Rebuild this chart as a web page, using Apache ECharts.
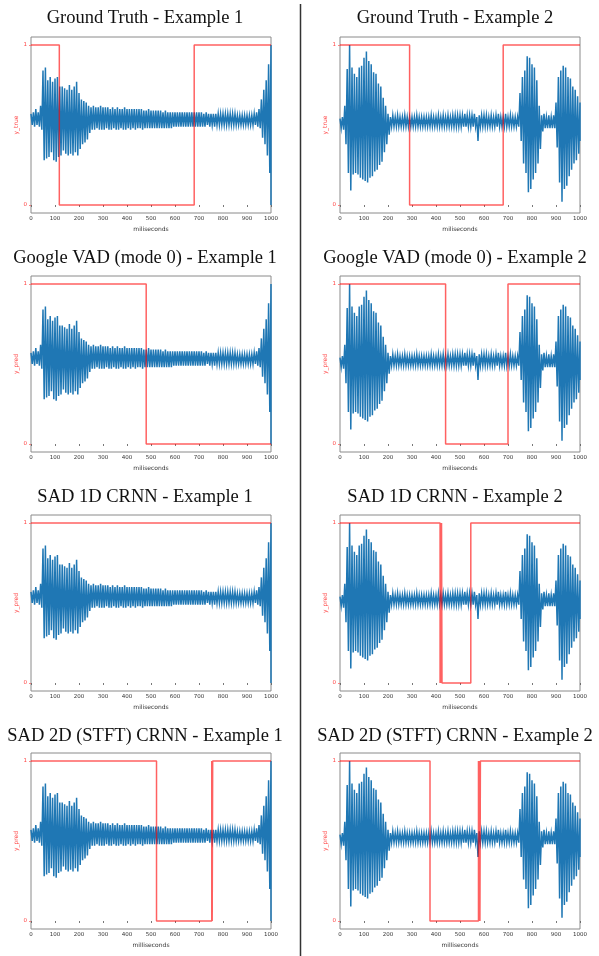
<!DOCTYPE html>
<html><head><meta charset="utf-8">
<script src="https://cdn.jsdelivr.net/npm/echarts@6/dist/echarts.min.js"></script>
<style>html,body{margin:0;padding:0;background:#fff}#c{width:599px;height:956px}</style>
</head><body><div id="c"></div>
<script>
// ---------- DATA ----------
const xTicks = [0,100,200,300,400,500,600,700,800,900,1000];
const yTicks = [0,1];
const sampleStepMs = 10; // waveform envelope sampled every 10 ms, 0..1000

// Example 1 waveform: normalised peak / trough per 10 ms window
const ex1Peak = [0.57,0.58,0.60,0.58,0.62,0.84,0.86,0.78,0.80,0.77,
  0.79,0.80,0.74,0.74,0.73,0.72,0.75,0.72,0.74,0.77,
  0.70,0.66,0.65,0.64,0.62,0.61,0.62,0.61,0.61,0.62,
  0.61,0.61,0.61,0.60,0.61,0.60,0.61,0.60,0.60,0.61,
  0.60,0.60,0.60,0.60,0.60,0.60,0.60,0.59,0.59,0.60,
  0.59,0.59,0.59,0.59,0.59,0.58,0.59,0.58,0.58,0.58,
  0.58,0.58,0.58,0.58,0.58,0.58,0.58,0.58,0.58,0.58,
  0.58,0.58,0.57,0.58,0.57,0.57,0.57,0.57,0.57,0.57,
  0.57,0.57,0.57,0.57,0.57,0.57,0.56,0.56,0.56,0.56,
  0.56,0.56,0.56,0.57,0.58,0.60,0.66,0.72,0.78,0.88,1.00];
const ex1Trough = [0.50,0.49,0.50,0.49,0.47,0.28,0.29,0.30,0.33,0.28,
  0.27,0.30,0.31,0.34,0.32,0.31,0.32,0.31,0.33,0.31,
  0.35,0.38,0.39,0.41,0.45,0.47,0.47,0.48,0.47,0.47,
  0.47,0.48,0.47,0.47,0.48,0.47,0.47,0.48,0.47,0.47,
  0.48,0.47,0.48,0.47,0.48,0.48,0.47,0.48,0.48,0.48,
  0.48,0.48,0.48,0.48,0.48,0.48,0.48,0.48,0.48,0.49,
  0.49,0.49,0.49,0.49,0.49,0.49,0.49,0.49,0.49,0.49,
  0.49,0.49,0.49,0.50,0.49,0.50,0.49,0.50,0.50,0.50,
  0.50,0.50,0.50,0.50,0.50,0.50,0.50,0.50,0.50,0.50,
  0.50,0.50,0.50,0.50,0.49,0.48,0.42,0.38,0.31,0.20,0.00];

// Example 2 waveform
const ex2Peak = [0.54,0.55,0.62,0.85,1.00,0.86,0.82,0.80,0.86,0.87,
  0.92,0.96,0.90,0.88,0.83,0.82,0.76,0.74,0.67,0.62,
  0.57,0.55,0.56,0.55,0.56,0.55,0.55,0.56,0.55,0.55,
  0.55,0.55,0.56,0.55,0.55,0.55,0.55,0.55,0.56,0.55,
  0.55,0.56,0.55,0.56,0.55,0.56,0.55,0.56,0.56,0.56,
  0.56,0.56,0.57,0.56,0.56,0.56,0.57,0.55,0.56,0.56,
  0.56,0.56,0.55,0.56,0.55,0.56,0.57,0.55,0.55,0.57,
  0.55,0.56,0.55,0.55,0.55,0.70,0.80,0.84,0.93,0.92,
  0.88,0.86,0.78,0.62,0.56,0.57,0.55,0.56,0.55,0.56,
  0.64,0.80,0.84,0.87,0.86,0.80,0.79,0.74,0.72,0.68,0.64];
const ex2Trough = [0.48,0.47,0.38,0.20,0.09,0.19,0.20,0.19,0.17,0.16,
  0.15,0.14,0.17,0.18,0.21,0.22,0.25,0.27,0.33,0.38,
  0.44,0.49,0.49,0.49,0.49,0.49,0.49,0.49,0.49,0.49,
  0.49,0.49,0.49,0.49,0.49,0.49,0.49,0.49,0.49,0.49,
  0.49,0.49,0.49,0.49,0.49,0.49,0.49,0.49,0.49,0.49,
  0.49,0.49,0.49,0.49,0.49,0.49,0.49,0.40,0.49,0.49,
  0.49,0.49,0.49,0.49,0.49,0.49,0.49,0.49,0.49,0.49,
  0.49,0.49,0.49,0.49,0.49,0.40,0.26,0.20,0.08,0.10,
  0.16,0.20,0.26,0.35,0.46,0.48,0.48,0.48,0.48,0.48,
  0.36,0.14,0.02,0.10,0.12,0.18,0.22,0.26,0.28,0.32,0.40];

// Speech / non-speech labels: [ms where value starts, value]
const gtEx1    = [[0,1],[118,0],[680,1],[1000,1]];
const gtEx2    = [[0,1],[290,0],[680,1],[1000,1]];
const vadEx1   = [[0,1],[480,0],[1000,0]];
const vadEx2   = [[0,1],[440,0],[700,1],[1000,1]];
const sad1dEx1 = [[0,1],[1000,1]];
const sad1dEx2 = [[0,1],[417,0],[419,1],[421,0],[423,1],[425,0],[545,1],[1000,1]];
const sad2dEx1 = [[0,1],[523,0],[753,1],[755,0],[757,1],[1000,1]];
const sad2dEx2 = [[0,1],[375,0],[577,1],[579,0],[581,1],[583,0],[585,1],[1000,1]];

const panelTitles = ["Ground Truth - Example 1","Ground Truth - Example 2",
  "Google VAD (mode 0) - Example 1","Google VAD (mode 0) - Example 2",
  "SAD 1D CRNN - Example 1","SAD 1D CRNN - Example 2",
  "SAD 2D (STFT) CRNN - Example 1","SAD 2D (STFT) CRNN - Example 2"];
const yNames = ["y_true","y_true","y_pred","y_pred","y_pred","y_pred","y_pred","y_pred"];
const xNames = ["miliseconds","miliseconds","miliseconds","miliseconds","miliseconds","miliseconds","milliseconds","milliseconds"];
const labelSeries = [gtEx1,gtEx2,vadEx1,vadEx2,sad1dEx1,sad1dEx2,sad2dEx1,sad2dEx2];

// ---------- BUILD ----------
function waveform(peak, trough){
  const pts = [];
  for (let i=0;i<peak.length;i++){
    const t = i*sampleStepMs;
    pts.push([t, peak[i]]);
    pts.push([Math.min(t+sampleStepMs/2, 1000), trough[i]]);
  }
  return pts;
}
const wave1 = waveform(ex1Peak, ex1Trough);
const wave2 = waveform(ex2Peak, ex2Trough);

const gridLefts = [31, 340];
const gridTops = [37, 276, 515, 753];
const titleY = [9, 249, 488, 727];
const titleX = [145, 455];

const grids=[], xAxes=[], yAxes=[], series=[], titles=[];
for (let p=0;p<8;p++){
  const row = Math.floor(p/2), col = p%2;
  grids.push({left:gridLefts[col], top:gridTops[row], width:240, height:176,
    show:true, borderColor:'#8a8a8a', borderWidth:1, containLabel:false});
  titles.push({text:panelTitles[p], left:titleX[col], top:titleY[row], textAlign:'center', padding:0,
    textStyle:{fontFamily:'Liberation Serif', fontWeight:'normal', fontSize:18.5, color:'#111'}});
  xAxes.push({type:'value', gridIndex:p, min:0, max:1000, interval:100,
    name:xNames[p], nameLocation:'middle', nameGap:13,
    nameTextStyle:{fontFamily:'DejaVu Sans', fontSize:6, color:'#333'},
    axisLine:{show:false}, splitLine:{show:false},
    axisTick:{show:true, length:2, lineStyle:{color:'#555', width:0.8}},
    axisLabel:{fontFamily:'DejaVu Sans', fontSize:5.5, color:'#333', margin:3, formatter:v=>String(v)}});
  yAxes.push({type:'value', gridIndex:p, min:-0.05, max:1.05,
    name:yNames[p], nameLocation:'middle', nameGap:11, nameRotate:90,
    nameTextStyle:{fontFamily:'DejaVu Sans', fontSize:6, color:'#ff4444'},
    axisLine:{show:false}, splitLine:{show:false},
    axisTick:{show:true, length:2, customValues:yTicks, lineStyle:{color:'#ff6666', width:0.8}},
    axisLabel:{customValues:yTicks, fontFamily:'DejaVu Sans', fontSize:5.5, color:'#ff4444', margin:4}});
  series.push({type:'line', xAxisIndex:p, yAxisIndex:p, data: col===0?wave1:wave2,
    showSymbol:false, symbol:'none', sampling:null, animation:false, silent:true,
    lineStyle:{color:'#1f77b4', width:1.5, join:'miter'}, z:2});
  series.push({type:'line', xAxisIndex:p, yAxisIndex:p, data: labelSeries[p], step:'end',
    showSymbol:false, symbol:'none', animation:false, silent:true,
    lineStyle:{color:'rgba(255,0,0,0.62)', width:1.5}, z:3});
}

const chart = echarts.init(document.getElementById('c'), null, {renderer:'canvas'});
chart.setOption({
  animation:false,
  backgroundColor:'#fff',
  title:titles, grid:grids, xAxis:xAxes, yAxis:yAxes, series:series,
  graphic:[{type:'line', shape:{x1:300.5,y1:4,x2:300.5,y2:956}, style:{stroke:'#333', lineWidth:1.5}, silent:true}]
});
</script></body></html>
